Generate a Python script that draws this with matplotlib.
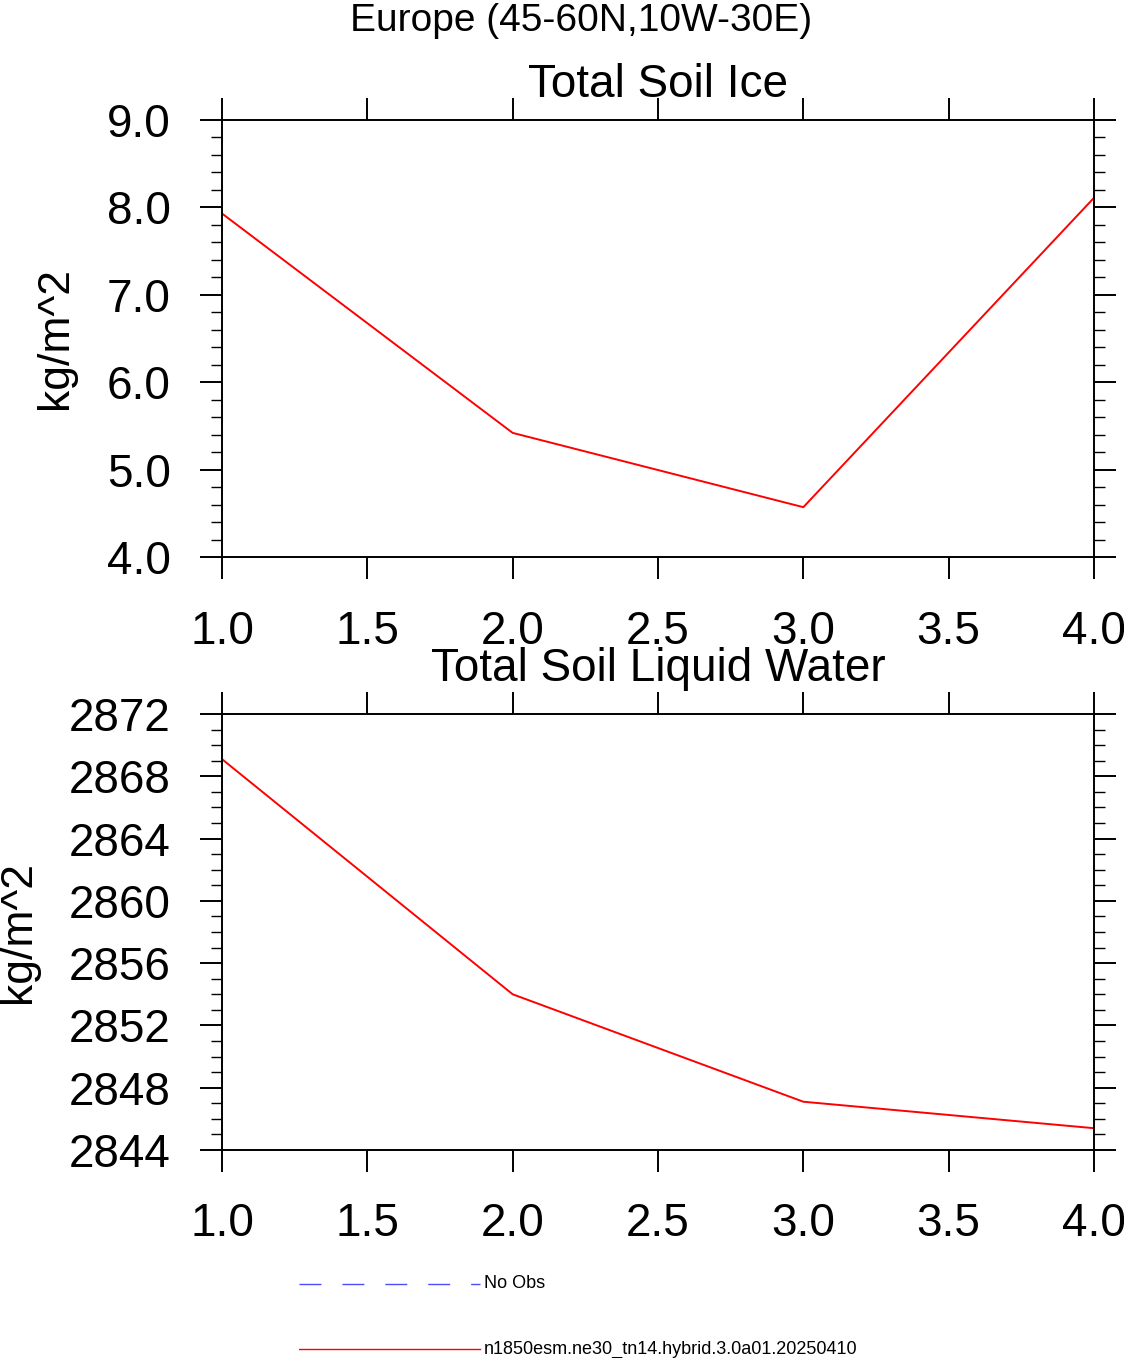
import matplotlib
matplotlib.use("Agg")
import matplotlib.pyplot as plt
from matplotlib.ticker import MultipleLocator, FormatStrFormatter

plt.rcParams['font.family'] = ['Liberation Sans', 'DejaVu Sans']

# ---- data ----
x_vals = [1.0, 2.0, 3.0, 4.0]
soil_ice = [7.93, 5.42, 4.57, 8.11]
soil_liq = [2869.1, 2854.0, 2847.1, 2845.4]

suptitle = "Europe (45-60N,10W-30E)"
titles = ["Total Soil Ice", "Total Soil Liquid Water"]
ylabel = "kg/m^2"
legend_labels = ["No Obs", "n1850esm.ne30_tn14.hybrid.3.0a01.20250410"]

W, H = 1124, 1358
fig = plt.figure(figsize=(W / 100, H / 100), dpi=100)

def px_axes(l, t, r, b):
    return fig.add_axes([l / W, 1 - b / H, (r - l) / W, (b - t) / H])

ax1 = px_axes(222, 120, 1094, 557)
ax2 = px_axes(222, 714, 1094, 1150)

def style(ax, ylim, major, minor, fmt, title, title_y, ylab_x):
    ax.set_xlim(1.0, 4.0)
    ax.set_ylim(*ylim)
    ax.xaxis.set_major_locator(MultipleLocator(0.5))
    ax.xaxis.set_major_formatter(FormatStrFormatter('%.1f'))
    ax.yaxis.set_major_locator(MultipleLocator(major))
    ax.yaxis.set_minor_locator(MultipleLocator(minor))
    ax.yaxis.set_major_formatter(FormatStrFormatter(fmt))
    for s in ax.spines.values():
        s.set_linewidth(1.4)
    ax.tick_params(which='both', direction='out', top=True, right=True)
    ax.tick_params(which='major', length=15.8, width=1.4, labelsize=33)
    ax.tick_params(which='minor', length=7.9, width=1.0)
    ax.tick_params(axis='x', which='major', pad=22)
    ax.tick_params(axis='y', which='major', pad=21)
    ax.text(0.5, title_y, title, transform=ax.transAxes, ha='center',
            va='baseline', fontsize=33)
    ax.set_ylabel(ylabel, fontsize=32)
    ax.yaxis.set_label_coords(ylab_x, 0.5)

ax1.plot(x_vals, soil_ice, color='red', lw=1.4)
ax2.plot(x_vals, soil_liq, color='red', lw=1.4)

style(ax1, (4.0, 9.0), 1.0, 0.2, '%.1f', titles[0], 1 + (120 - 97) / 437, (76 - 222) / 872)
style(ax2, (2844, 2872), 4, 1, '%d', titles[1], 1 + (714 - 681) / 436, (39 - 222) / 872)

fig.text(581 / W, 1 - 31 / H, suptitle, ha='center', va='baseline', fontsize=28)

# legend drawn in its own invisible axes
lax = px_axes(299, 1260, 1124, 1358)
lax.set_xlim(299, 1124)
lax.set_ylim(1358, 1260)
lax.axis('off')
lax.plot([299, 480], [1284, 1284], color='#4d4dff', lw=1.0,
         linestyle=(0, (15.8, 15.1)), solid_capstyle='butt')
lax.plot([299, 480], [1349, 1349], color='red', lw=1.0)
lax.text(484, 1284, legend_labels[0], ha='left', va='center', fontsize=13)
lax.text(484, 1349, legend_labels[1], ha='left', va='center', fontsize=13)

fig.savefig("out.png", dpi=100)
